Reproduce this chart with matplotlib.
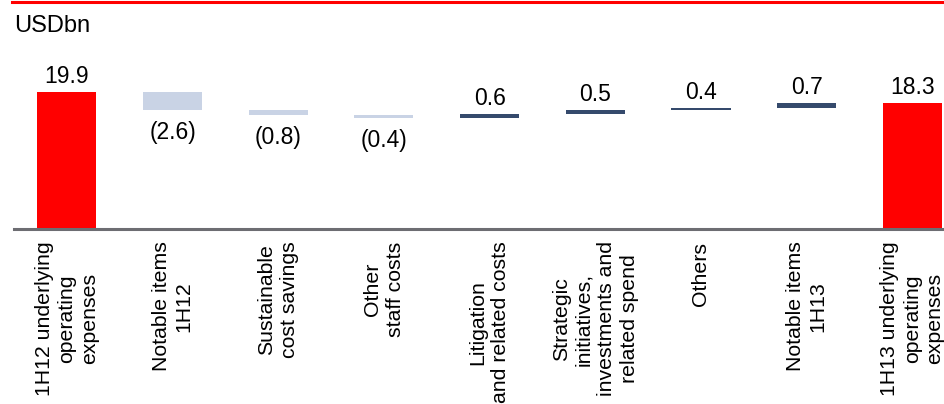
import matplotlib.pyplot as plt
import numpy as np

plt.rcParams["font.family"] = ["Liberation Sans", "DejaVu Sans"]

categories = [
    "1H12 underlying\noperating\nexpenses",
    "Notable items\n1H12",
    "Sustainable\ncost savings",
    "Other\nstaff costs",
    "Litigation\nand related costs",
    "Strategic\ninitiatives,\ninvestments and\nrelated spend",
    "Others",
    "Notable items\n1H13",
    "1H13 underlying\noperating\nexpenses",
]
changes = [19.9, -2.6, -0.8, -0.4, 0.6, 0.5, 0.4, 0.7]
total_end = 18.3
value_labels = ["19.9", "(2.6)", "(0.8)", "(0.4)", "0.6", "0.5", "0.4", "0.7", "18.3"]

RED = "#ff0000"
LIGHT = "#c9d3e5"
NAVY = "#354a6c"

fig = plt.figure(figsize=(9.44, 4.04), dpi=100)
ax = fig.add_axes([14 / 944, 1 - 229 / 404, 1 - 14 / 944, 229 / 404 - 1 / 404])

x = np.arange(len(categories))
bottoms, heights, colors = [], [], []
running = 0.0
for i, c in enumerate(changes):
    if i == 0:
        bottoms.append(0.0)
        heights.append(c)
        colors.append(RED)
        running = c
    elif c < 0:
        bottoms.append(running + c)
        heights.append(-c)
        colors.append(LIGHT)
        running += c
    else:
        bottoms.append(running)
        heights.append(c)
        colors.append(NAVY)
        running += c
bottoms.append(0.0)
heights.append(total_end)
colors.append(RED)

ax.bar(x, heights, bottom=bottoms, width=0.56, color=colors, linewidth=0)

for i, lab in enumerate(value_labels):
    top = bottoms[i] + heights[i]
    if 0 < i < len(changes) and changes[i] < 0:
        ax.annotate(lab, (x[i], bottoms[i]), xytext=(0, -8),
                    textcoords="offset points", ha="center", va="top", fontsize=16.5)
    else:
        ax.annotate(lab, (x[i], top), xytext=(0, 6.5),
                    textcoords="offset points", ha="center", va="baseline", fontsize=16.5)

ax.set_xlim(-0.5, 8.3)
ax.set_ylim(0, 228 / 6.9)
for s in ["top", "right", "left"]:
    ax.spines[s].set_visible(False)
ax.spines["bottom"].set_color("#6d6d72")
ax.spines["bottom"].set_linewidth(2.2)
ax.set_yticks([])
ax.set_xticks(x)
ax.set_xticklabels(categories, rotation=90, fontsize=15.3, ha="center", va="top",
                   multialignment="center", linespacing=1.25)
ax.tick_params(axis="x", length=0, pad=9)

# red rule across the top
fig.add_artist(plt.Line2D([12 / 944, 1], [1 - 2 / 404, 1 - 2 / 404],
                          color=RED, linewidth=2.2))
fig.text(14 / 944, 1 - 32 / 404, "USDbn", fontsize=17, ha="left", va="baseline")

fig.savefig("out.png", dpi=100)
